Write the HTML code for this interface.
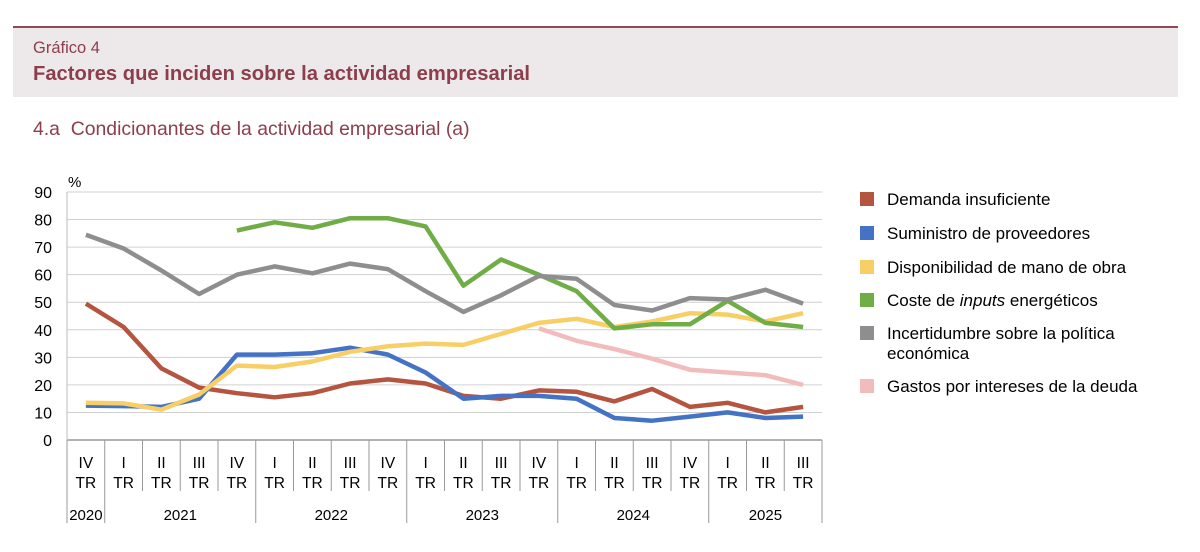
<!DOCTYPE html>
<html><head><meta charset="utf-8">
<style>
body{margin:0;background:#fff;width:1200px;height:552px;overflow:hidden;font-family:"Liberation Sans",Arial,sans-serif}
#hdr{position:absolute;left:13px;top:26px;width:1165px;height:69px;background:#ede9ea;border-top:2px solid #8c4a56}
.t1{position:absolute;left:20px;top:11px;font-size:16.5px;color:#8c3e4c}
.t2{position:absolute;left:20px;top:35px;font-size:20.2px;font-weight:bold;color:#8c3e4c}
.sub{position:absolute;left:33px;top:118px;font-size:19.4px;color:#8c3e4c}
svg{position:absolute;left:0;top:0}
</style></head><body>
<div id="hdr">
<div class="t1">Gráfico 4</div>
<div class="t2">Factores que inciden sobre la actividad empresarial</div>
</div>
<div class="sub">4.a&nbsp; Condicionantes de la actividad empresarial (a)</div>
<svg id="c" width="1200" height="552"></svg>
<script>
const quarters=["IV","I","II","III","IV","I","II","III","IV","I","II","III","IV","I","II","III","IV","I","II","III"];
const years=[["2020",0,1],["2021",1,5],["2022",5,9],["2023",9,13],["2024",13,17],["2025",17,20]];
const yTicks=[0,10,20,30,40,50,60,70,80,90];
const demanda=[49.5,41,26,19,17,15.5,17,20.5,22,20.5,16,15,18,17.5,14,18.5,12,13.5,10,12];
const suministro=[12.5,12.3,12,15,31,31,31.5,33.5,31,24.5,15,16,16,15,8,7,8.5,10,8,8.5];
const manoObra=[13.5,13.3,11,16.5,27,26.5,28.5,32,34,35,34.5,38.5,42.5,44,41,43,46,45.5,43,46];
const energia=[null,null,null,null,76,79,77,80.5,80.5,77.5,56,65.5,60,54,40.5,42,42,50.5,42.5,41];
const incertidumbre=[74.5,69.5,61.5,53,60,63,60.5,64,62,54,46.5,52.5,59.5,58.5,49,47,51.5,51,54.5,49.5];
const intereses=[null,null,null,null,null,null,null,null,null,null,null,null,40.5,36,33,29.5,25.5,24.5,23.5,20];
const series=[["demanda-insuficiente",demanda,"#b5543f",["Demanda insuficiente"]],
["suministro-proveedores",suministro,"#4472c4",["Suministro de proveedores"]],
["disponibilidad-mano-obra",manoObra,"#f8cf66",["Disponibilidad de mano de obra"]],
["coste-inputs-energeticos",energia,"#70ad47",["Coste de <tspan font-style='italic'>inputs</tspan> energéticos"]],
["incertidumbre-politica",incertidumbre,"#8e8e8e",["Incertidumbre sobre la política","económica"]],
["gastos-intereses-deuda",intereses,"#f2bcbc",["Gastos por intereses de la deuda"]]];
const X0=67,X1=822,Y0=440,Y90=192,n=quarters.length,bw=(X1-X0)/n;
const xs=i=>X0+bw*(i+0.5), ys=v=>Y0-(v/90)*(Y0-Y90);
const svg=document.getElementById('c');let h='';
yTicks.forEach(t=>{const y=ys(t);
h+=`<line x1="${X0}" x2="${X1}" y1="${y}" y2="${y}" stroke="${t?'#d0d0d0':'#999'}" stroke-width="${t?1:1.5}"/>`;
h+=`<text x="52" y="${y+6}" text-anchor="end" font-size="16" fill="#000">${t}</text>`;});
h+=`<line x1="${X0}" x2="${X0}" y1="${Y90}" y2="${Y0}" stroke="#bbb"/>`;
h+=`<text x="68" y="187" font-size="15">%</text>`;
const bounds=new Set(years.map(y=>y[1]).concat([n]));
for(let i=0;i<=n;i++){const x=X0+bw*i;h+=`<line x1="${x}" x2="${x}" y1="${Y0}" y2="${bounds.has(i)?523:491}" stroke="#999"/>`;}
quarters.forEach((q,i)=>{h+=`<text x="${xs(i)}" y="468" text-anchor="middle" font-size="15.5">${q}</text><text x="${xs(i)}" y="488" text-anchor="middle" font-size="15.5">TR</text>`;});
years.forEach(y=>{h+=`<text x="${X0+bw*(y[1]+y[2])/2}" y="520" text-anchor="middle" font-size="15">${y[0]}</text>`;});
series.forEach(s=>{let d='';let pen=false;s[1].forEach((v,i)=>{if(v==null){pen=false;return;}d+=(pen?'L':'M')+xs(i).toFixed(1)+','+ys(v).toFixed(1);pen=true;});
h+=`<path d="${d}" fill="none" stroke="${s[2]}" stroke-width="4.5" stroke-linejoin="round"/>`;});
const ly=[199,233,267,300,333,386];
series.forEach((s,k)=>{const y=ly[k];h+=`<g><rect x="860" y="${y-7}" width="14" height="14" fill="${s[2]}"/>`;
s[3].forEach((l,j)=>{h+=`<text x="887" y="${y+6+j*20}" font-size="17">${l}</text>`;});h+='</g>';});
svg.innerHTML=h;
</script>
</body></html>
